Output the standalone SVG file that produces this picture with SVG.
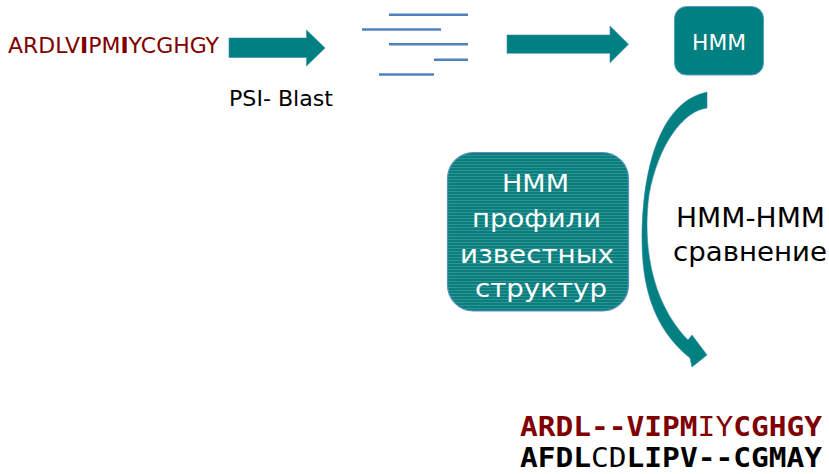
<svg xmlns="http://www.w3.org/2000/svg" width="829" height="474" viewBox="0 0 829 474">
  <defs>
    <pattern id="stripes" x="0" y="0" width="6" height="3" patternUnits="userSpaceOnUse">
      <rect x="0" y="0" width="6" height="3" fill="#0a7d7d"/>
      <rect x="0" y="2" width="6" height="1" fill="#2e9494"/>
    </pattern>
  </defs>
  <style>
    .sans { font-family: "DejaVu Sans", "Noto Sans", sans-serif; }
    .mono { font-family: "DejaVu Sans Mono", "Liberation Mono", monospace; font-size: 26px; }
    .arrow { fill: #008080; stroke: #3f86b0; stroke-width: 0.6; }
    .hit { stroke: #4f81bd; stroke-width: 2.5; fill: none; }
    .white { fill: #ffffff; }
  </style>

  <g id="query-seq">
    <text class="sans" x="8" y="53" font-size="21" fill="#800000" textLength="211" lengthAdjust="spacingAndGlyphs">ARDLV<tspan font-weight="bold">I</tspan>PM<tspan font-weight="bold">I</tspan>YCGHGY</text>
  </g>

  <g id="psi-blast-label">
    <text class="sans" x="229" y="106" font-size="22" fill="#000000" textLength="104" lengthAdjust="spacingAndGlyphs">PSI- Blast</text>
  </g>

  <g id="alignment-hits">
    <line class="hit" x1="389" y1="14.7" x2="468" y2="14.7"/>
    <line class="hit" x1="362" y1="29.5" x2="441" y2="29.5"/>
    <line class="hit" x1="389" y1="44.3" x2="468" y2="44.3"/>
    <line class="hit" x1="434" y1="59.7" x2="468" y2="59.7"/>
    <line class="hit" x1="379" y1="74.5" x2="434" y2="74.5"/>
  </g>

  <g id="hmm-node">
    <rect x="674.5" y="6.5" width="89" height="68.5" rx="12" ry="12" fill="#008080" stroke="#5b9bc6" stroke-width="1"/>
    <text class="sans white" x="692" y="50" font-size="22" textLength="54" lengthAdjust="spacingAndGlyphs">HMM</text>
  </g>

  <g id="known-profiles">
    <rect x="447.5" y="152.5" width="181" height="158.5" rx="26" ry="26" fill="url(#stripes)" stroke="#5b8fc6" stroke-width="1.2"/>
    <text class="sans white" x="502" y="192" font-size="25" textLength="67" lengthAdjust="spacingAndGlyphs">HMM</text>
    <text class="sans white" x="472" y="227" font-size="25" textLength="129" lengthAdjust="spacingAndGlyphs">профили</text>
    <text class="sans white" x="460" y="263" font-size="25" textLength="154" lengthAdjust="spacingAndGlyphs">известных</text>
    <text class="sans white" x="475" y="297" font-size="25" textLength="132" lengthAdjust="spacingAndGlyphs">структур</text>
  </g>

  <g id="hmm-hmm-label">
    <text class="sans" x="676" y="227" font-size="26" fill="#000000" textLength="149" lengthAdjust="spacingAndGlyphs">HMM-HMM</text>
    <text class="sans" x="673" y="261" font-size="26" fill="#000000" textLength="154" lengthAdjust="spacingAndGlyphs">сравнение</text>
  </g>

  <g id="result-alignment">
    <text class="mono" x="520" y="436" fill="#800000" font-weight="bold" textLength="302" lengthAdjust="spacingAndGlyphs">ARDL--VIPM<tspan font-weight="normal">IY</tspan>CGHGY</text>
    <text class="mono" x="520" y="467" fill="#000000" font-weight="bold" textLength="302" lengthAdjust="spacingAndGlyphs">AFDL<tspan font-weight="normal">CD</tspan>LIPV--CGMAY</text>
  </g>

  <g id="connectors">
    <path class="arrow" d="M229,38 L306.5,38 L306.5,30 L325,48 L306.5,66 L306.5,57.5 L229,57.5 Z"/>
    <path class="arrow" d="M507,35 L610,35 L610,26 L628.5,44.3 L610,62.7 L610,53.3 L507,53.3 Z"/>
    <path class="arrow" d="M700,94 L707,92 L707,108 C683,111 658,145 649,195 C643,240 649,300 688,340 L692,335 L707,355 L692,367 L690,358 C658,332 642,295 642,240 C642,168 660,108 700,94 Z"/>
  </g>
</svg>
